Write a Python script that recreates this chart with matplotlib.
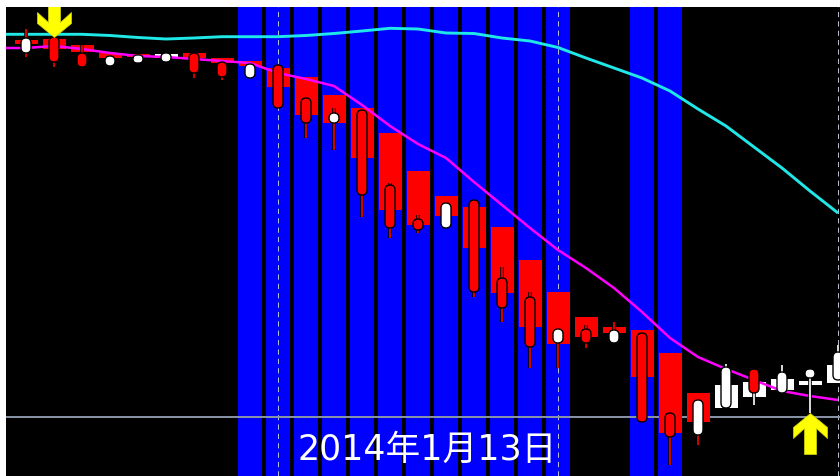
"""Candlestick chart with signal boxes, two moving averages and trend bands."""

import numpy as np
import matplotlib
matplotlib.use("Agg")
import matplotlib.pyplot as plt
from matplotlib.patches import FancyBboxPatch
from matplotlib.path import Path

# values are chart levels (0 = bottom edge of the pane)
bar_idx = np.arange(30)
c_open = [423, 439, 423, 410, 413, 414, 423, 414, 398, 411,
          378, 353, 366, 291, 257, 248, 276, 198, 179, 133,
          147, 133, 143, 63, 41, 68, 107, 83, 98, 96]
c_close = [438, 414, 409, 420, 421, 423, 403, 399, 412, 368,
           353, 363, 281, 248, 246, 273, 184, 168, 129, 147,
           133, 146, 54, 39, 76, 109, 83, 104, 107, 124]
c_high = [447, 439, 431, 420, 421, 423, 423, 414, 412, 411,
          378, 368, 366, 293, 261, 273, 276, 209, 184, 147,
          151, 154, 143, 63, 76, 112, 107, 111, 107, 131]
c_low = [419, 409, 409, 410, 413, 414, 398, 396, 398, 368,
         338, 326, 259, 238, 243, 248, 179, 154, 108, 108,
         128, 133, 54, 11, 31, 68, 71, 83, 63, 96]
box_open = [436, 437, 431, 423, 422, 418, 423, 418, 415, 408,
            399, 381, 368, 343, 305, 280, 269, 249, 216, 184,
            159, 149, 146, 123, 83, 68, 79, 86, 91, 93]
box_close = [432, 427, 424, 418, 419, 422, 418, 413, 410, 389,
             361, 353, 318, 266, 251, 260, 228, 183, 149, 132,
             139, 143, 99, 43, 54, 91, 94, 97, 95, 111]

# averages start one bar left of the pane
avg_idx = np.arange(-1, 30)
cyan_avg = [441.7, 441.7, 441.7, 441.7, 440.5, 438.5, 437, 438, 439.3, 439.3,
            439.3, 440.5, 442.5, 445, 447.7, 447, 443, 442.5, 438, 435,
            428.5, 418, 408, 398, 385, 367, 350, 329, 308, 285, 263]
magenta_avg = [428, 428, 430, 427, 423, 420, 419, 417, 415, 413,
               403, 397, 390, 371, 350, 332, 318, 294, 271, 248,
               226, 208, 188, 164, 138, 119, 107, 96, 85, 80, 76]

blue_bars = [8, 9, 10, 11, 12, 13, 14, 15, 16, 17, 18, 19, 22, 23]
day_breaks = [9, 19, 29]
level_line = 59
sell_bar = 1
buy_bar = 28
date_label = "2014年1月13日"

RED = "#ff0000"
WHITE = "#ffffff"
BLUE = "#0000ff"
PX_PER_BAR = 28


def arrow_path(up=True):
    verts = [(0, 0), (17, -14), (17, -25), (6, -15), (6, -41), (-6, -41),
             (-6, -15), (-17, -25), (-17, -14), (0, 0)]
    verts = np.array(verts, dtype=float)
    if not up:
        verts[:, 1] *= -1
    codes = [Path.MOVETO] + [Path.LINETO] * (len(verts) - 2) + [Path.CLOSEPOLY]
    return Path(verts, codes)


fig = plt.figure(figsize=(8.4, 4.76), dpi=100, facecolor="white")
ax = fig.add_axes([6 / 840, 0, 834 / 840, 469 / 476])
ax.set_facecolor("black")
ax.set_xlim(-20 / PX_PER_BAR, 814 / PX_PER_BAR)
ax.set_ylim(0, 469)
ax.set_xticks([])
ax.set_yticks([])
for s in ax.spines.values():
    s.set_visible(False)

# trend bands
for b in blue_bars:
    ax.axvspan(b - 12 / PX_PER_BAR, b + 12 / PX_PER_BAR, color=BLUE, lw=0, zorder=1)

for d in day_breaks:
    ax.axvline(d, color="#b4bccc", lw=0.75, ls=(0, (5, 4)), zorder=1.5)

ax.axhline(level_line, color="#8a96a8", lw=1.4, zorder=1.6)

# wide boxes
box_lo = np.minimum(box_open, box_close)
box_h = np.abs(np.array(box_open) - np.array(box_close))
box_col = [RED if o > c else WHITE for o, c in zip(box_open, box_close)]
ax.bar(bar_idx, box_h, bottom=box_lo, width=23 / PX_PER_BAR, color=box_col,
       lw=0, zorder=3)

# moving averages
ax.plot(avg_idx, cyan_avg, color="#20e8e8", lw=2.1, zorder=4, solid_capstyle="butt")
ax.plot(avg_idx, magenta_avg, color="#ff00ff", lw=1.8, zorder=4, solid_capstyle="butt")

# wicks
ax.vlines(bar_idx, c_low, c_high, colors="black", lw=2.6, zorder=5)
ax.vlines(bar_idx, c_low, c_high, colors=box_col, lw=1.2, zorder=5.1)

# narrow rounded candle bodies
body_w = 10 / PX_PER_BAR
for i, o, c in zip(bar_idx, c_open, c_close):
    lo, hi = min(o, c), max(o, c)
    r = min(5, (hi - lo) / 2) / PX_PER_BAR
    face = RED if o > c else WHITE
    ax.add_patch(FancyBboxPatch((i - body_w / 2, lo), body_w, hi - lo,
                                boxstyle=f"round,pad=0,rounding_size={r}",
                                mutation_aspect=PX_PER_BAR, fc=face, ec="black",
                                lw=1.0, zorder=6))

# signal arrows
arrow_size = 2 * 41 * 72 / 100
ax.plot([sell_bar], [c_high[sell_bar]], marker=arrow_path(up=False), ms=arrow_size,
        color="#ffff00", mec="#d8d800", mew=0.5, ls="none", zorder=8)
ax.plot([buy_bar], [c_low[buy_bar]], marker=arrow_path(up=True), ms=arrow_size,
        color="#ffff00", mec="#d8d800", mew=0.5, ls="none", zorder=8)

fig.text(427 / 840, (476 - 460) / 476, date_label, ha="center", va="baseline",
         fontsize=25, color="white", family=["DejaVu Sans", "Noto Sans CJK JP"])

fig.savefig("out.png", dpi=100, facecolor=fig.get_facecolor())
